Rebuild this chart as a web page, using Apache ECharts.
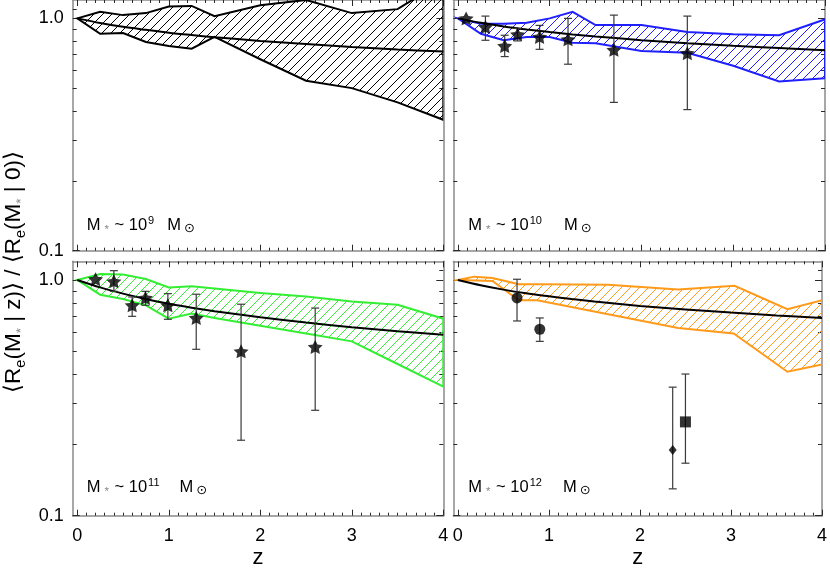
<!DOCTYPE html>
<html><head><meta charset="utf-8">
<script src="https://cdn.jsdelivr.net/npm/echarts@6/dist/echarts.min.js"></script>
<style>html,body{margin:0;padding:0;background:#fff}#c{width:830px;height:573px}</style>
</head><body><div id="c"></div><script>
// ---------------- data ----------------
const X_MIN = -0.05, X_MAX = 4;
const X_MAJOR = [0, 1, 2, 3, 4];
const X_LABELS = ['0', '1', '2', '3', '4'];
const X_MINOR = [0.1,0.2,0.3,0.4,0.5,0.6,0.7,0.8,0.9,1.1,1.2,1.3,1.4,1.5,1.6,1.7,1.8,1.9,2.1,2.2,2.3,2.4,2.5,2.6,2.7,2.8,2.9,3.1,3.2,3.3,3.4,3.5,3.6,3.7,3.8,3.9];
const X_NAME = 'z';
const Y_MIN = 0.1, Y_MAX = 1.2;
const Y_MAJOR = [0.1, 1.0];
const Y_LABELS = ['0.1', '1.0'];
const Y_MINOR = [0.2,0.3,0.4,0.5,0.6,0.7,0.8,0.9,1.1];
const PANEL_EXP = ['9', '10', '11', '12'];

const zGrid = [0, 0.25, 0.5, 0.75, 1.0, 1.25, 1.5, 2.0, 2.5, 3.0, 3.5, 4.0];

// panel 1: M* ~ 1e9 (black band)
const upper9 = [1.0, 1.067, 1.033, 1.054, 1.126, 1.132, 1.023, 1.14, 1.2, 1.054, 1.096, 1.45];
const lower9 = [1.0, 0.859, 0.865, 0.791, 0.761, 0.741, 0.832, 0.667, 0.539, 0.501, 0.435, 0.366];
const median9 = [1.0, 0.955, 0.92, 0.893, 0.868, 0.848, 0.83, 0.80, 0.775, 0.753, 0.735, 0.72];

// panel 2: M* ~ 1e10 (blue band)
const upper10 = [1.0, 0.948, 0.948, 0.957, 1.0, 1.067, 0.936, 0.936, 0.874, 0.854, 0.846, 0.99];
const lower10 = [1.0, 0.859, 0.805, 0.832, 0.832, 0.786, 0.782, 0.724, 0.712, 0.625, 0.535, 0.553];
const median10 = [1.0, 0.957, 0.923, 0.896, 0.873, 0.853, 0.836, 0.806, 0.782, 0.762, 0.745, 0.729];
const obs10_z  = [0.09, 0.3, 0.51, 0.65, 0.89, 1.2, 1.7, 2.5];
const obs10_v  = [1.0, 0.918, 0.761, 0.854, 0.832, 0.813, 0.732, 0.708];
const obs10_lo = [1.0, 0.805, 0.685, 0.8, 0.736, 0.635, 0.435, 0.405];
const obs10_hi = [1.0, 1.023, 0.846, 0.906, 0.933, 1.0, 1.033, 1.023];

// panel 3: M* ~ 1e11 (green band)
const upper11 = [1.0, 1.06, 1.055, 1.01, 0.93, 0.94, 0.92, 0.88, 0.85, 0.81, 0.785, 0.685];
const lower11 = [1.0, 0.866, 0.83, 0.78, 0.685, 0.72, 0.69, 0.64, 0.593, 0.549, 0.44, 0.353];
const median11 = [1.0, 0.93, 0.875, 0.83, 0.792, 0.762, 0.737, 0.695, 0.66, 0.63, 0.606, 0.585];
const obs11_z  = [0.2, 0.4, 0.6, 0.745, 0.99, 1.3, 1.79, 2.6];
const obs11_v  = [1.007, 0.987, 0.781, 0.839, 0.781, 0.69, 0.498, 0.52];
const obs11_lo = [1.007, 0.895, 0.701, 0.781, 0.681, 0.508, 0.209, 0.28];
const obs11_hi = [1.007, 1.095, 0.847, 0.895, 0.875, 0.87, 0.789, 0.76];

// panel 4: M* ~ 1e12 (orange band)
const zUpper12 = [0, 0.18, 0.38, 0.67, 0.93, 1.65, 2.42, 3.04, 3.62, 4.0];
const upper12  = [1.0, 1.033, 1.02, 0.96, 0.959, 0.955, 0.91, 0.945, 0.751, 0.82];
const zLower12 = [0, 0.38, 0.67, 0.87, 1.75, 2.42, 3.03, 3.62, 4.0];
const lower12  = [1.0, 0.99, 0.82, 0.82, 0.703, 0.625, 0.593, 0.408, 0.438];
const median12 = [1.0, 0.95, 0.91, 0.878, 0.853, 0.83, 0.81, 0.776, 0.75, 0.727, 0.707, 0.69];
const circ12_z  = [0.65, 0.9];
const circ12_v  = [0.839, 0.618];
const circ12_lo = [0.67, 0.549];
const circ12_hi = [1.007, 0.69];
const diam12_z = [2.36], diam12_v = [0.19], diam12_lo = [0.13], diam12_hi = [0.351];
const sq12_z = [2.5], sq12_v = [0.25], sq12_lo = [0.167], sq12_hi = [0.399];

// ---------------- styling ----------------
const FONT = "'Liberation Sans', Arial, Helvetica, sans-serif";
const FRAME = '#8a8a8a', TICK = '#2a2a2a', ERR = '#3a3a3a';
const BAND_COLORS = ['#000000', '#2020ff', '#33ee33', '#ff9a1a'];
const GRIDS = [
  {left: 72.7, top: -1.2, width: 370.6, height: 251.9},
  {left: 453.3, top: -1.2, width: 371.7, height: 251.9},
  {left: 72.7, top: 261.3, width: 370.6, height: 254.4},
  {left: 453.3, top: 261.3, width: 371.7, height: 254.4}
];
const LABEL_POS = [[86.7, 215.6], [468.3, 215.6], [86.7, 477.4], [468.3, 477.4]];
const SUN_GAP = [13, 22, 20, 21];
const STAR = 'path://M0,-10 L2.94,-4.05 L9.51,-3.09 L4.76,1.55 L5.88,8.09 L0,5 L-5.88,8.09 L-4.76,1.55 L-9.51,-3.09 L-2.94,-4.05 Z';

function hatch(color) {
  const s = 9;
  const c = document.createElement('canvas');
  c.width = s; c.height = s;
  const g = c.getContext('2d');
  g.strokeStyle = color; g.lineWidth = 1;
  g.beginPath();
  g.moveTo(0, s); g.lineTo(s, 0);
  g.moveTo(-1, 1); g.lineTo(1, -1);
  g.moveTo(s - 1, s + 1); g.lineTo(s + 1, s - 1);
  g.stroke();
  return {image: c, repeat: 'repeat'};
}

const xAxes = [], yAxes = [];
GRIDS.forEach((g, i) => {
  const bottomRow = i >= 2, leftCol = i % 2 === 0;
  const bx = {type: 'value', gridIndex: i, min: X_MIN, max: X_MAX, splitLine: {show: false}, axisPointer: {show: false}};
  const lineOn = {show: true, onZero: false, lineStyle: {color: FRAME, width: 1.5}};
  const lineOff = {show: false, onZero: false};
  xAxes.push(Object.assign({}, bx, {position: 'bottom', axisLine: lineOn,
    axisTick: {show: true, inside: true, length: 6, customValues: X_MAJOR, lineStyle: {color: TICK, width: 1}},
    axisLabel: {show: bottomRow, customValues: X_MAJOR, fontSize: 18, color: '#000', margin: 11, fontFamily: FONT,
      formatter: v => X_LABELS[X_MAJOR.indexOf(Math.round(v))]},
    name: bottomRow ? X_NAME : '', nameLocation: 'middle', nameGap: 31,
    nameTextStyle: {fontSize: 22, color: '#000', fontFamily: FONT}}));
  xAxes.push(Object.assign({}, bx, {position: 'bottom', axisLine: lineOff,
    axisTick: {show: true, inside: true, length: 3, customValues: X_MINOR, lineStyle: {color: TICK, width: 1}},
    axisLabel: {show: false}}));
  xAxes.push(Object.assign({}, bx, {position: 'top', axisLine: lineOn,
    axisTick: {show: true, inside: true, length: 6, customValues: X_MAJOR, lineStyle: {color: TICK, width: 1}},
    axisLabel: {show: false}}));
  xAxes.push(Object.assign({}, bx, {position: 'top', axisLine: lineOff,
    axisTick: {show: true, inside: true, length: 3, customValues: X_MINOR, lineStyle: {color: TICK, width: 1}},
    axisLabel: {show: false}}));

  const by = {type: 'log', logBase: 10, gridIndex: i, min: Y_MIN, max: Y_MAX, splitLine: {show: false}, axisPointer: {show: false}};
  yAxes.push(Object.assign({}, by, {position: 'left', axisLine: lineOn,
    axisTick: {show: true, inside: true, length: 7, customValues: Y_MAJOR, lineStyle: {color: TICK, width: 1}},
    axisLabel: {show: leftCol, customValues: Y_MAJOR, fontSize: 18, color: '#000', margin: 9, fontFamily: FONT,
      formatter: v => { let k = 0; Y_MAJOR.forEach((t, j) => { if (Math.abs(t - v) < Math.abs(Y_MAJOR[k] - v)) k = j; }); return Y_LABELS[k]; }}}));
  yAxes.push(Object.assign({}, by, {position: 'left', axisLine: lineOff,
    axisTick: {show: true, inside: true, length: 4, customValues: Y_MINOR, lineStyle: {color: TICK, width: 1}},
    axisLabel: {show: false}}));
  yAxes.push(Object.assign({}, by, {position: 'right', axisLine: lineOn,
    axisTick: {show: true, inside: true, length: 7, customValues: Y_MAJOR, lineStyle: {color: TICK, width: 1}},
    axisLabel: {show: false}}));
  yAxes.push(Object.assign({}, by, {position: 'right', axisLine: lineOff,
    axisTick: {show: true, inside: true, length: 4, customValues: Y_MINOR, lineStyle: {color: TICK, width: 1}},
    axisLabel: {show: false}}));
});

const pairs = (xs, ys) => xs.map((x, k) => [x, ys[k]]);

function bandSeries(i, zU, up, zL, lo, color) {
  const pts = pairs(zU, up).concat(pairs(zL, lo).reverse());
  const fill = hatch(color);
  return {type: 'custom', xAxisIndex: 4 * i, yAxisIndex: 4 * i, data: [[1, 0.5]], silent: true, z: 2,
    renderItem(params, api) {
      const cs = params.coordSys;
      return {type: 'polygon', shape: {points: pts.map(p => api.coord(p))},
        style: {fill: fill, stroke: color, lineWidth: 2, lineJoin: 'miter'},
        clipPath: {type: 'rect', shape: {x: cs.x, y: cs.y, width: cs.width, height: cs.height}}};
    }};
}
function medianSeries(i, vals) {
  return {type: 'line', xAxisIndex: 4 * i, yAxisIndex: 4 * i, data: pairs(zGrid, vals), showSymbol: false, symbol: 'none',
    smooth: 0.3, lineStyle: {color: '#000', width: 2}, silent: true, z: 3};
}
function errSeries(i, zs, lo, hi) {
  return {type: 'custom', xAxisIndex: 4 * i, yAxisIndex: 4 * i, data: zs.map((z, k) => [z, lo[k], hi[k]]), silent: true, z: 4,
    renderItem(params, api) {
      const a = api.coord([api.value(0), api.value(1)]);
      const b = api.coord([api.value(0), api.value(2)]);
      const w = 4, st = {stroke: ERR, lineWidth: 1.2};
      return {type: 'group', children: [
        {type: 'line', shape: {x1: a[0], y1: a[1], x2: b[0], y2: b[1]}, style: st},
        {type: 'line', shape: {x1: a[0] - w, y1: a[1], x2: a[0] + w, y2: a[1]}, style: st},
        {type: 'line', shape: {x1: b[0] - w, y1: b[1], x2: b[0] + w, y2: b[1]}, style: st}
      ]};
    }};
}
function pointSeries(i, zs, vs, symbol, size) {
  return {type: 'scatter', xAxisIndex: 4 * i, yAxisIndex: 4 * i, data: pairs(zs, vs), symbol: symbol, symbolSize: size,
    itemStyle: {color: '#000'}, silent: true, z: 5};
}

const series = [
  bandSeries(0, zGrid, upper9, zGrid, lower9, BAND_COLORS[0]),
  medianSeries(0, median9),
  bandSeries(1, zGrid, upper10, zGrid, lower10, BAND_COLORS[1]),
  medianSeries(1, median10),
  errSeries(1, obs10_z.slice(1), obs10_lo.slice(1), obs10_hi.slice(1)),
  pointSeries(1, obs10_z, obs10_v, STAR, [15, 14]),
  bandSeries(2, zGrid, upper11, zGrid, lower11, BAND_COLORS[2]),
  medianSeries(2, median11),
  errSeries(2, obs11_z.slice(1), obs11_lo.slice(1), obs11_hi.slice(1)),
  pointSeries(2, obs11_z, obs11_v, STAR, [15, 14]),
  bandSeries(3, zUpper12, upper12, zLower12, lower12, BAND_COLORS[3]),
  medianSeries(3, median12),
  errSeries(3, circ12_z, circ12_lo, circ12_hi),
  errSeries(3, diam12_z, diam12_lo, diam12_hi),
  errSeries(3, sq12_z, sq12_lo, sq12_hi),
  pointSeries(3, circ12_z, circ12_v, 'circle', 11),
  pointSeries(3, diam12_z, diam12_v, 'diamond', [8, 10]),
  pointSeries(3, sq12_z, sq12_v, 'rect', 11)
];

// labels (explicit font strings so rich tokens keep their sizes)
const F = (px, fam) => px + 'px ' + (fam || FONT);
function panelRich(gap) {
  return {
    m:   {font: F(16.5), lineHeight: 20, verticalAlign: 'middle', fill: '#000'},
    st:  {font: F(11.5), lineHeight: 2, verticalAlign: 'bottom', fill: '#888', padding: [0, 1, 0, 4]},
    sup: {font: F(11), lineHeight: 16, verticalAlign: 'top', fill: '#000', padding: [0, 0, 0, 1]},
    m2:  {font: F(16.5), lineHeight: 20, verticalAlign: 'middle', fill: '#000', padding: [0, 0, 0, gap]},
    sun: {font: F(13, "'DejaVu Sans', sans-serif"), lineHeight: 8, verticalAlign: 'bottom', fill: '#000', padding: [0, 0, 0, 3]}
  };
}
const graphics = LABEL_POS.map((p, i) => ({
  type: 'text', x: p[0], y: p[1], silent: true,
  style: {text: '{m|M}{st|*}{m| ~ 10}{sup|' + PANEL_EXP[i] + '}{m2|M}{sun|⊙}', rich: panelRich(SUN_GAP[i]),
    font: F(16.5), fill: '#000', align: 'left', verticalAlign: 'top'}
}));
const trich = {
  m:  {font: F(22.5), lineHeight: 28, verticalAlign: 'middle', fill: '#000'},
  e:  {font: F(14.5), lineHeight: 12, verticalAlign: 'bottom', fill: '#000'},
  st: {font: F(13.5), lineHeight: 6, verticalAlign: 'bottom', fill: '#888'}
};
graphics.push({type: 'text', x: 14, y: 272, rotation: Math.PI / 2, silent: true,
  style: {text: '{m|⟨R}{e|e}{m|(M}{st|*}{m| | z)⟩ / ⟨R}{e|e}{m|(M}{st|*}{m| | 0)⟩}', rich: trich,
    font: F(22.5), fill: '#000', align: 'center', verticalAlign: 'middle'}});

const chart = echarts.init(document.getElementById('c'), null, {renderer: 'canvas'});
chart.setOption({
  animation: false,
  backgroundColor: '#fff',
  textStyle: {fontFamily: FONT},
  grid: GRIDS.map(g => Object.assign({containLabel: false}, g)),
  xAxis: xAxes,
  yAxis: yAxes,
  series: series,
  graphic: graphics
});
</script></body></html>
